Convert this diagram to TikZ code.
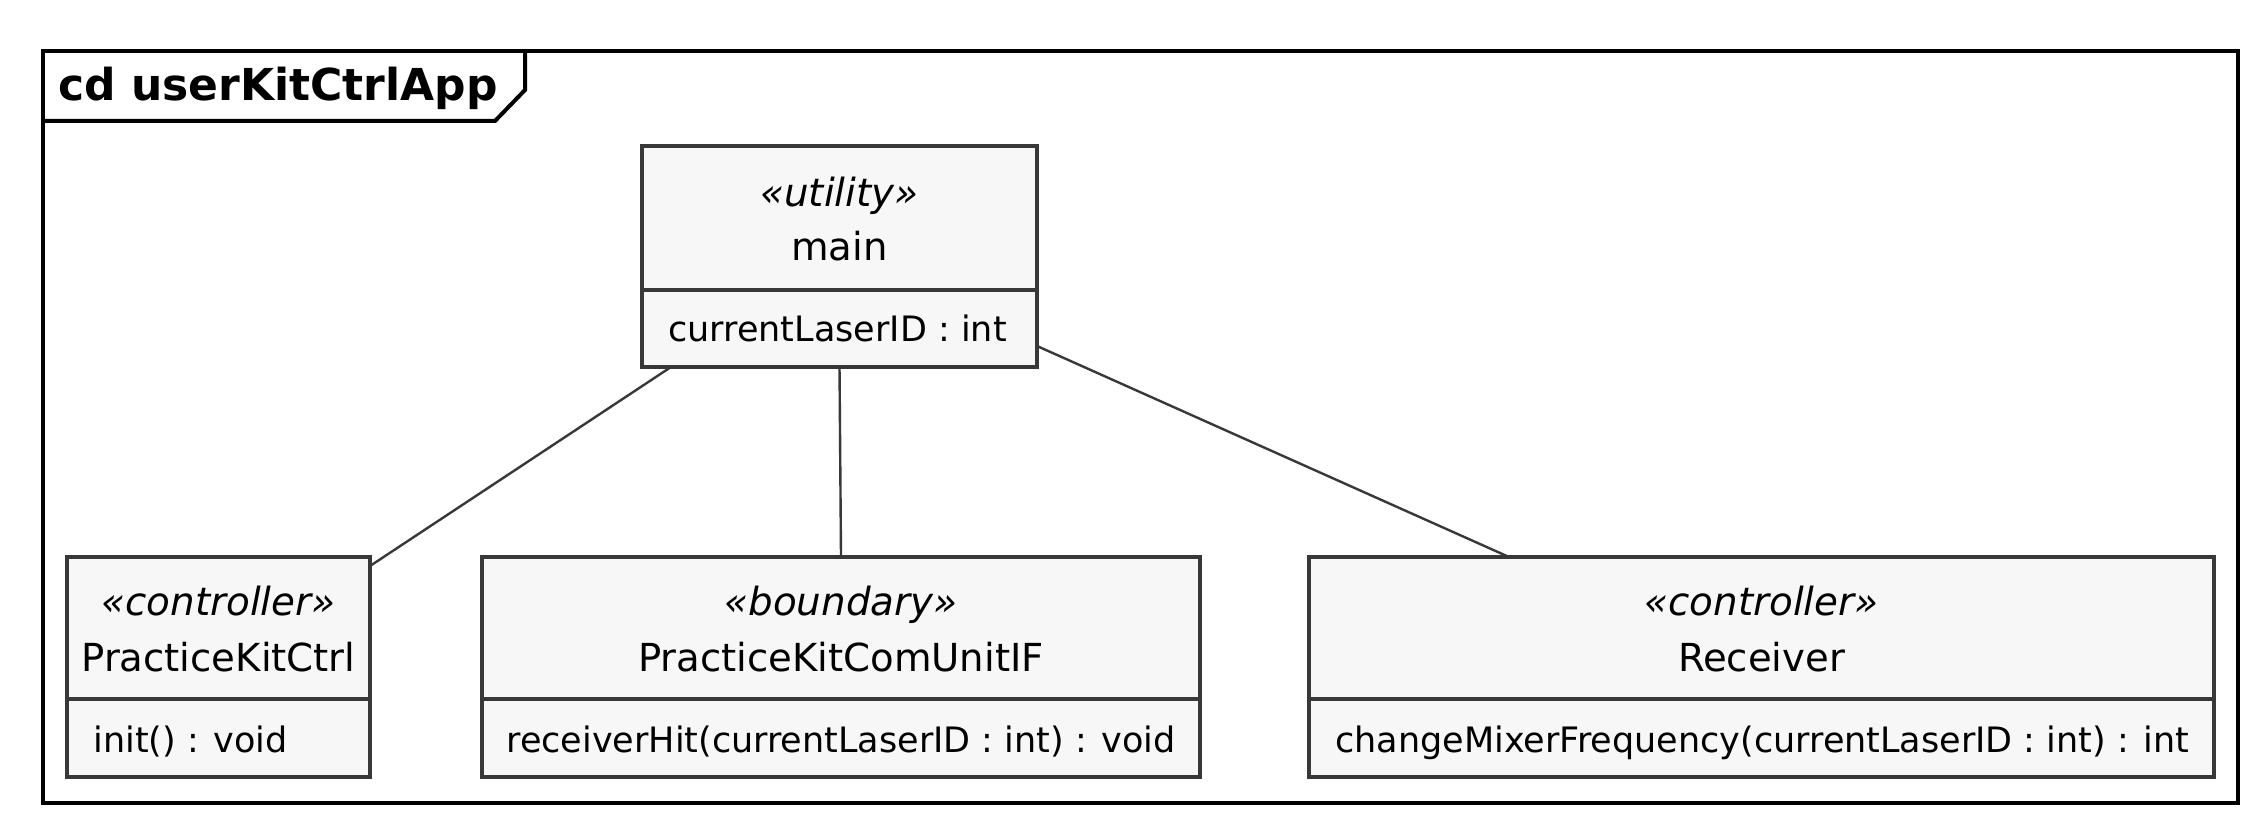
\documentclass[tikz,border=0pt]{standalone}
\usepackage{fontspec}
\setmainfont{DejaVu Sans}
\usetikzlibrary{calc}
\definecolor{umlline}{HTML}{383838}
\definecolor{umlfill}{HTML}{F7F7F7}
\begin{document}
\begin{tikzpicture}[x=0.5pt,y=-0.5pt,
  classbox/.style={draw=umlline, fill=umlfill, line width=2pt, inner sep=0pt, outer sep=0pt, anchor=north west},
  umltext/.style={inner sep=0pt, text height=14pt, text depth=4pt},
  clsname/.style={umltext, font=\fontsize{19.3}{23}\selectfont},
  stereo/.style={umltext, font=\fontsize{19.4}{23}\selectfont\itshape},
  member/.style={umltext, anchor=west, font=\fontsize{17.5}{21}\selectfont},
  divider/.style={draw=umlline, line width=2pt},
  assoc/.style={draw=umlline, line width=1.2pt}]
\useasboundingbox (0,0) rectangle (2268,834);

% diagram frame with its name tab
\draw[line width=2pt] (43,51) rectangle (2238,803);
\draw[line width=2pt] (43,121) -- (495,121) -- (525,90) -- (525,51);
\node[anchor=west, inner sep=0pt, text height=16pt, text depth=4pt, font=\fontsize{22}{26}\selectfont\bfseries] (title) at (58,89) {cd userKitCtrlApp};

% class: main
\node[classbox, minimum width=197.5pt, minimum height=110.5pt] (main) at (642,146) {};
\draw[divider] ($(main.north west)+(0,144)$) -- ($(main.north east)+(0,144)$);
\node[stereo] (mainst) at (839.5,196) {«utility»};
\node[clsname] (mainnm) at (839.5,251) {main};
\node[member] (mainat) at (668,331.5) {currentLaserID : int};

% class: PracticeKitCtrl
\node[classbox, minimum width=151.5pt, minimum height=110pt] (pkc) at (67,557) {};
\draw[divider] ($(pkc.north west)+(0,142)$) -- ($(pkc.north east)+(0,142)$);
\node[stereo] (pkcst) at (218.5,605) {«controller»};
\node[clsname] (pkcnm) at (218.5,661) {PracticeKitCtrl};
\node[member] (pkcop) at (93,742.5) {init() : void};

% class: PracticeKitComUnitIF
\node[classbox, minimum width=359pt, minimum height=110pt] (comif) at (482,557) {};
\draw[divider] ($(comif.north west)+(0,142)$) -- ($(comif.north east)+(0,142)$);
\node[stereo] (comifst) at (841,605) {«boundary»};
\node[clsname] (comifnm) at (841,661) {PracticeKitComUnitIF};
\node[member] (comifop) at (506,742.5) {receiverHit(currentLaserID : int) : void};

% class: Receiver
\node[classbox, minimum width=452.5pt, minimum height=110pt] (recv) at (1309,557) {};
\draw[divider] ($(recv.north west)+(0,142)$) -- ($(recv.north east)+(0,142)$);
\node[stereo] (recvst) at (1761.5,605) {«controller»};
\node[clsname] (recvnm) at (1761.5,661) {Receiver};
\node[member] (recvop) at (1335,742.5) {changeMixerFrequency(currentLaserID : int) : int};

% associations
\draw[assoc] ($(main.south west)+(29,0)$) -- ($(pkc.north east)+(0,9)$);
\draw[assoc] (main.south) -- (comif.north);
\draw[assoc] ($(main.south east)+(0,-21)$) -- ($(recv.north west)+(200,0)$);
\end{tikzpicture}
\end{document}
